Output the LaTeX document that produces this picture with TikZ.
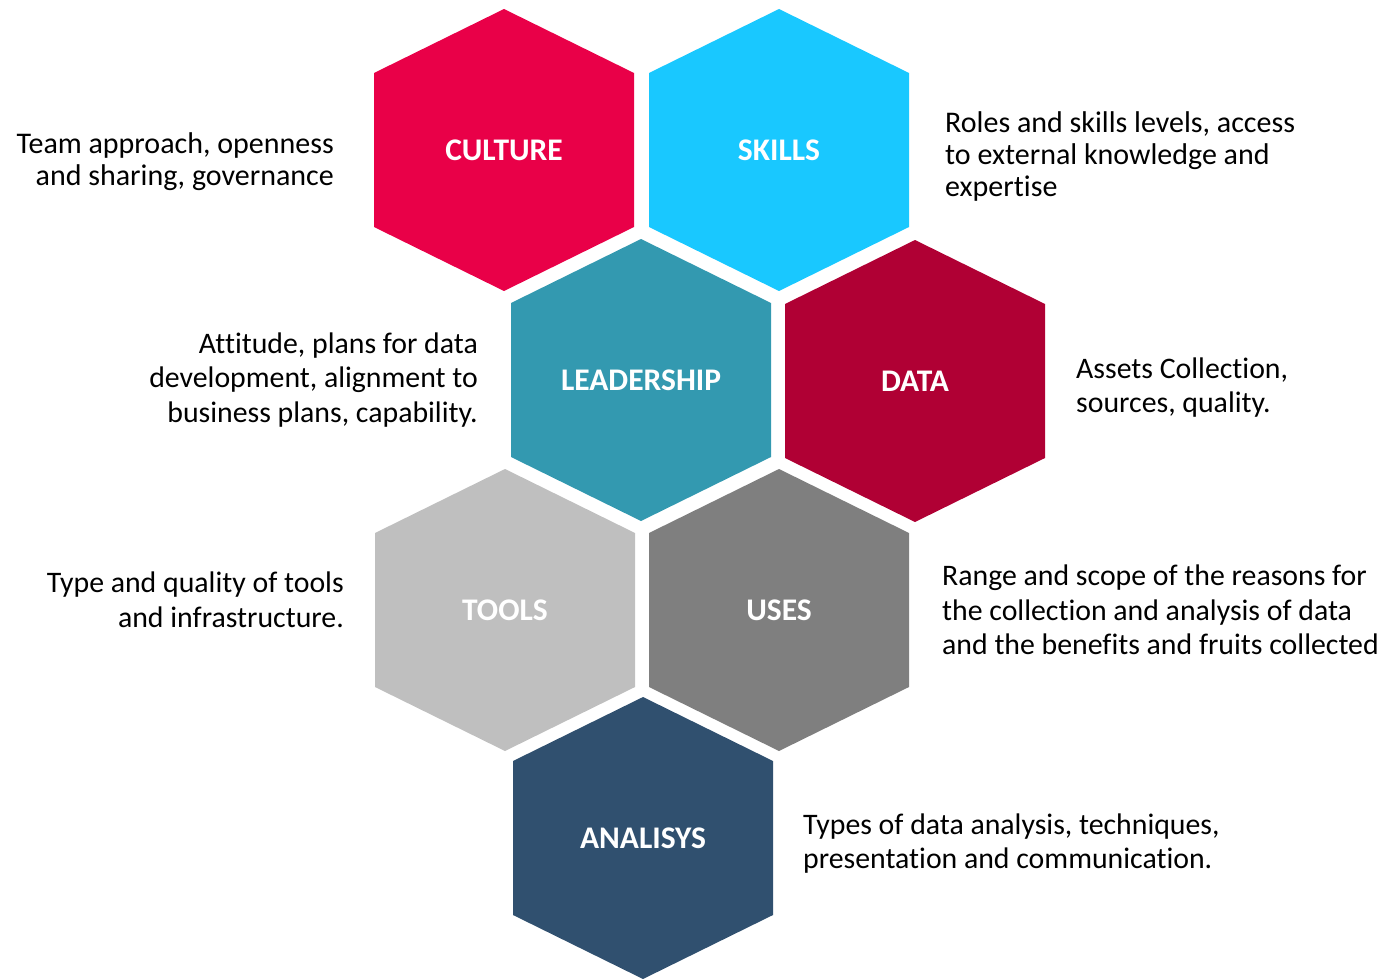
\documentclass[tikz,border=0pt]{standalone}
\usepackage{fontspec}
\setmainfont{Carlito}[Ligatures={NoCommon}]
\usetikzlibrary{positioning}

\definecolor{culturered}{RGB}{233,0,72}
\definecolor{skillsblue}{RGB}{25,200,255}
\definecolor{leadteal}{RGB}{51,153,176}
\definecolor{datared}{RGB}{176,0,52}
\definecolor{toolsgrey}{RGB}{191,191,191}
\definecolor{usesgrey}{RGB}{127,127,127}
\definecolor{analblue}{RGB}{48,80,111}

% hexagon round a named centre
\newcommand{\hexcell}[2]{%
  \fill[#2, shift={(#1)}] (0,-141) -- (130,-77) -- (130,77) -- (0,141) -- (-130,77) -- (-130,-77) -- cycle;}

\begin{document}
\begin{tikzpicture}[
  x=1pt, y=-1pt,
  every node/.style={inner sep=0pt},
  hexlabel/.style={text=white, font=\fontsize{31.5}{36}\selectfont\bfseries},
  desc/.style={font=\fontsize{29.8}{34.5}\selectfont},
  descsmall/.style={font=\fontsize{30}{32}\selectfont},
  ]
  \useasboundingbox (0,0) rectangle (1383,979);

  \coordinate (culture) at (504,150);
  \coordinate (skills) at (779,150);
  \coordinate (leadership) at (641,380);
  \coordinate (data) at (915,381);
  \coordinate (tools) at (505,610);
  \coordinate (uses) at (779,610);
  \coordinate (analisys) at (643,838);

  \hexcell{culture}{culturered}
  \hexcell{skills}{skillsblue}
  \hexcell{leadership}{leadteal}
  \hexcell{data}{datared}
  \hexcell{tools}{toolsgrey}
  \hexcell{uses}{usesgrey}
  \hexcell{analisys}{analblue}

  \node[hexlabel] (L1) at (culture) {CULTURE};
  \node[hexlabel] (L2) at (skills) {SKILLS};
  \node[hexlabel] (L3) at (leadership) {LEADERSHIP};
  \node[hexlabel] (L4) at (data) {DATA};
  \node[hexlabel] (L5) at (tools) {TOOLS};
  \node[hexlabel] (L6) at (uses) {USES};
  \node[hexlabel] (L7) at (analisys) {ANALISYS};

  \node[descsmall, anchor=east, align=right] (T1) at (334,162) {Team approach, openness\\and sharing, governance};
  \node[descsmall, anchor=west, align=left] (T2) at (945,157) {Roles and skills levels, access\\to external knowledge and\\expertise};
  \node[desc, anchor=east, align=right] (T3) at (478,380) {Attitude, plans for data\\development, alignment to\\business plans, capability.};
  \node[desc, anchor=west, align=left] (T4) at (1076,387.5) {Assets Collection,\\sources, quality.};
  \node[desc, anchor=east, align=right] (T5) at (344,600) {Type and quality of tools\\and infrastructure.};
  \node[desc, anchor=west, align=left] (T6) at (942,610) {Range and scope of the reasons for\\the collection and analysis of data\\and the benefits and fruits collected};
  \node[desc, anchor=west, align=left] (T7) at (803,843.5) {Types of data analysis, techniques,\\presentation and communication.};

\end{tikzpicture}
\end{document}
